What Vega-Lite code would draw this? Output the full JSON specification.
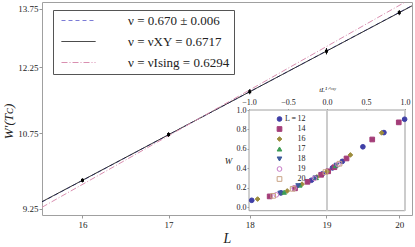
{
  "$schema": "https://vega.github.io/schema/vega-lite/v6.json",
  "autosize": {"type": "none"},
  "padding": {"left": 42, "top": 2, "right": 3, "bottom": 32},
  "width": 370,
  "height": 213,
  "background": "white",
  "view": {"stroke": "#a0a0a0", "fill": "white"},
  "config": {
    "font": "Liberation Serif",
    "axis": {"labelFont": "Liberation Serif", "titleFont": "Liberation Serif", "labelColor": "#222", "titleColor": "#222", "tickColor": "#999", "domain": false, "grid": false, "titleFontWeight": "normal"},
    "legend": {"labelFont": "Liberation Serif", "labelColor": "#222"}
  },
  "resolve": {"scale": {"x": "independent", "y": "independent"}, "axis": {"x": "independent", "y": "independent"}},
  "layer": [
    {
      "layer": [
        {
          "data": {"values": [
            {"fit": "ν = 0.670 ± 0.006", "L": 15.55, "W": 9.379},
            {"fit": "ν = 0.670 ± 0.006", "L": 20.18, "W": 13.84},
            {"fit": "ν = νXY = 0.6717", "L": 15.55, "W": 9.384},
            {"fit": "ν = νXY = 0.6717", "L": 20.18, "W": 13.834},
            {"fit": "ν = νIsing = 0.6294", "L": 15.55, "W": 9.281},
            {"fit": "ν = νIsing = 0.6294", "L": 20.18, "W": 14.045}
          ]},
          "mark": {"type": "line", "clip": true, "strokeWidth": 1},
          "encoding": {
            "x": {"field": "L", "type": "quantitative", "scale": {"type": "log", "domain": [15.55, 20.18], "nice": false},
              "axis": {"orient": "bottom", "values": [16, 17, 18, 19, 20], "format": "d", "title": "L", "titleFontStyle": "italic", "titleFontSize": 14, "labelFontSize": 9, "tickSize": 3, "labelPadding": 2, "titlePadding": 2}},
            "y": {"field": "W", "type": "quantitative", "scale": {"type": "log", "domain": [9.14, 13.94], "nice": false},
              "axis": {"orient": "left", "values": [9.25, 10.75, 12.25, 13.75], "format": ".2f", "title": "W′(Tᴄ)", "titleFontStyle": "italic", "titleFontSize": 13, "labelFontSize": 9, "tickSize": 3, "labelPadding": 1, "titlePadding": 2, "titleY": 119}},
            "color": {"field": "fit", "type": "nominal",
              "scale": {"domain": ["ν = 0.670 ± 0.006", "ν = νXY = 0.6717", "ν = νIsing = 0.6294"], "range": ["#7b7bd6", "#111111", "#d98fb0"]},
              "legend": {"orient": "none", "legendX": 11, "legendY": 8, "title": null, "symbolType": "M-3.4,0H3.4", "symbolSize": 100, "symbolStrokeWidth": 1, "symbolFillColor": "transparent", "symbolOffset": 15, "labelFont": "Liberation Serif", "labelFontSize": 13, "labelOffset": 43, "rowPadding": 7, "padding": 4, "strokeColor": "#555", "fillColor": "white", "labelExpr": "datum.label + '\u2002\u2009'"}},
            "strokeDash": {"field": "fit", "type": "nominal",
              "scale": {"domain": ["ν = 0.670 ± 0.006", "ν = νXY = 0.6717", "ν = νIsing = 0.6294"], "range": [[4, 3], [1, 0], [6, 2, 1, 2]]},
              "legend": {"orient": "none", "legendX": 11, "legendY": 8, "title": null, "symbolType": "M-3.4,0H3.4", "symbolSize": 100, "symbolStrokeWidth": 1, "symbolFillColor": "transparent", "symbolOffset": 15, "labelFont": "Liberation Serif", "labelFontSize": 13, "labelOffset": 43, "rowPadding": 7, "padding": 4, "strokeColor": "#555", "fillColor": "white", "labelExpr": "datum.label + '\u2002\u2009'"}}
          }
        },
        {
          "data": {"values": [
            {"L": 16, "W": 9.79, "lo": 9.75, "hi": 9.83},
            {"L": 17, "W": 10.72, "lo": 10.67, "hi": 10.77},
            {"L": 18, "W": 11.67, "lo": 11.61, "hi": 11.73},
            {"L": 19, "W": 12.645, "lo": 12.565, "hi": 12.725},
            {"L": 20, "W": 13.65, "lo": 13.58, "hi": 13.72}
          ]},
          "layer": [
            {"mark": {"type": "rule", "color": "black", "strokeWidth": 1},
             "encoding": {"x": {"field": "L", "type": "quantitative"}, "y": {"field": "lo", "type": "quantitative"}, "y2": {"field": "hi"}}},
            {"mark": {"type": "square", "color": "black", "size": 9, "opacity": 1},
             "encoding": {"x": {"field": "L", "type": "quantitative"}, "y": {"field": "W", "type": "quantitative"}}}
          ]
        }
      ]
    },
    {
      "layer": [
        {
          "data": {"values": [{"t1": -1, "t2": 1, "w1": -0.035, "w2": 1.0}]},
          "mark": {"type": "rect", "fill": "white", "stroke": "#a0a0a0", "strokeWidth": 1},
          "encoding": {
            "x": {"field": "t1", "type": "quantitative", "scale": {"domain": [-3.6538, 1.0897], "nice": false, "zero": false},
              "axis": {"orient": "top", "offset": -108.5, "values": [-1, -0.5, 0, 0.5, 1], "format": ".1f", "title": "tL¹ᐟᵛˣʸ", "titleFontStyle": "italic", "titleFontSize": 7, "labelFontSize": 8, "tickSize": 2, "labelPadding": 2, "titleX": 285, "titleY": -21, "titleBaseline": "middle", "titleAlign": "center"}},
            "x2": {"field": "t2"},
            "y": {"field": "w1", "type": "quantitative", "scale": {"domain": [-0.0791, 2.11], "nice": false, "zero": false},
              "axis": {"orient": "left", "offset": -207, "values": [0, 0.2, 0.4, 0.6, 0.8, 1], "format": ".1f", "title": "W", "titleAngle": 0, "titleFontStyle": "italic", "titleFontSize": 9, "labelFontSize": 8, "tickSize": 2, "labelPadding": 1, "titleX": -21, "titleY": 158, "titleAlign": "center", "titleBaseline": "middle"}},
            "y2": {"field": "w2"}
          }
        },
        {
          "data": {"values": [{"t1": 0, "w1": -0.035, "w2": 1.0}, {"t1": 1, "w1": -0.035, "w2": 1.0}]},
          "mark": {"type": "rule", "color": "#cccccc", "strokeWidth": 2},
          "encoding": {
            "x": {"field": "t1", "type": "quantitative"},
            "y": {"field": "w1", "type": "quantitative"},
            "y2": {"field": "w2"}
          }
        },
        {
          "data": {"values": [
            {"L": "12", "t1": -0.965, "w1": 0.072}, {"L": "12", "t1": -0.59, "w1": 0.148}, {"L": "12", "t1": -0.2, "w1": 0.278},
            {"L": "12", "t1": -0.06, "w1": 0.343}, {"L": "12", "t1": 0.07, "w1": 0.405}, {"L": "12", "t1": 0.196, "w1": 0.472},
            {"L": "12", "t1": 0.46, "w1": 0.622}, {"L": "12", "t1": 0.73, "w1": 0.768}, {"L": "12", "t1": 0.995, "w1": 0.905},
            {"L": "14", "t1": -0.735, "w1": 0.112}, {"L": "14", "t1": -0.41, "w1": 0.195}, {"L": "14", "t1": -0.25, "w1": 0.262},
            {"L": "14", "t1": -0.075, "w1": 0.334}, {"L": "14", "t1": 0.015, "w1": 0.37}, {"L": "14", "t1": 0.095, "w1": 0.412},
            {"L": "14", "t1": 0.25, "w1": 0.502}, {"L": "14", "t1": 0.58, "w1": 0.697}, {"L": "14", "t1": 0.92, "w1": 0.873},
            {"L": "16", "t1": -0.89, "w1": 0.085}, {"L": "16", "t1": -0.51, "w1": 0.168}, {"L": "16", "t1": -0.32, "w1": 0.238},
            {"L": "16", "t1": -0.13, "w1": 0.312}, {"L": "16", "t1": 0.0, "w1": 0.368}, {"L": "16", "t1": 0.3, "w1": 0.538},
            {"L": "16", "t1": 0.7, "w1": 0.765},
            {"L": "17", "t1": -0.55, "w1": 0.155}, {"L": "17", "t1": -0.35, "w1": 0.228}, {"L": "17", "t1": -0.14, "w1": 0.305}, {"L": "17", "t1": 0.11, "w1": 0.428},
            {"L": "18", "t1": -0.6, "w1": 0.145}, {"L": "18", "t1": -0.37, "w1": 0.222}, {"L": "18", "t1": -0.15, "w1": 0.302}, {"L": "18", "t1": 0.12, "w1": 0.432},
            {"L": "19", "t1": -0.65, "w1": 0.128}, {"L": "19", "t1": -0.42, "w1": 0.198}, {"L": "19", "t1": -0.16, "w1": 0.298}, {"L": "19", "t1": 0.14, "w1": 0.44},
            {"L": "20", "t1": -0.69, "w1": 0.118}, {"L": "20", "t1": -0.44, "w1": 0.19}, {"L": "20", "t1": -0.02, "w1": 0.362}, {"L": "20", "t1": 0.16, "w1": 0.448}
          ]},
          "mark": {"type": "point", "filled": true, "size": 22, "strokeWidth": 1, "opacity": 1},
          "encoding": {
            "x": {"field": "t1", "type": "quantitative"},
            "y": {"field": "w1", "type": "quantitative"},
            "shape": {"field": "L", "type": "nominal",
              "scale": {"domain": ["12", "14", "16", "17", "18", "19", "20"], "range": ["circle", "square", "diamond", "triangle-up", "triangle-down", "circle", "square"]},
              "legend": {"orient": "none", "legendX": 233.5, "legendY": 113, "title": null, "labelFont": "Liberation Serif", "labelFontSize": 8, "labelAlign": "right", "labelOffset": 22, "rowPadding": 0, "symbolStrokeWidth": 1, "symbolSize": 22, "padding": 0, "labelExpr": "datum.label == '12' ? 'L\u2009=\u200912' : datum.label"}},
            "fill": {"field": "L", "type": "nominal",
              "scale": {"domain": ["12", "14", "16", "17", "18", "19", "20"], "range": ["#3f3fa6", "#a33d78", "#9c8c3c", "#3d9c55", "#3d5a9c", "transparent", "transparent"]},
              "legend": {"orient": "none", "legendX": 233.5, "legendY": 113, "title": null, "labelFont": "Liberation Serif", "labelFontSize": 8, "labelAlign": "right", "labelOffset": 22, "rowPadding": 0, "symbolStrokeWidth": 1, "symbolSize": 22, "padding": 0, "labelExpr": "datum.label == '12' ? 'L\u2009=\u200912' : datum.label"}},
            "stroke": {"field": "L", "type": "nominal",
              "scale": {"domain": ["12", "14", "16", "17", "18", "19", "20"], "range": ["#3f3fa6", "#a33d78", "#9c8c3c", "#3d9c55", "#3d5a9c", "#c77ac7", "#c9a486"]},
              "legend": {"orient": "none", "legendX": 233.5, "legendY": 113, "title": null, "labelFont": "Liberation Serif", "labelFontSize": 8, "labelAlign": "right", "labelOffset": 22, "rowPadding": 0, "symbolStrokeWidth": 1, "symbolSize": 22, "padding": 0, "labelExpr": "datum.label == '12' ? 'L\u2009=\u200912' : datum.label"}}
          }
        }
      ]
    }
  ]
}
